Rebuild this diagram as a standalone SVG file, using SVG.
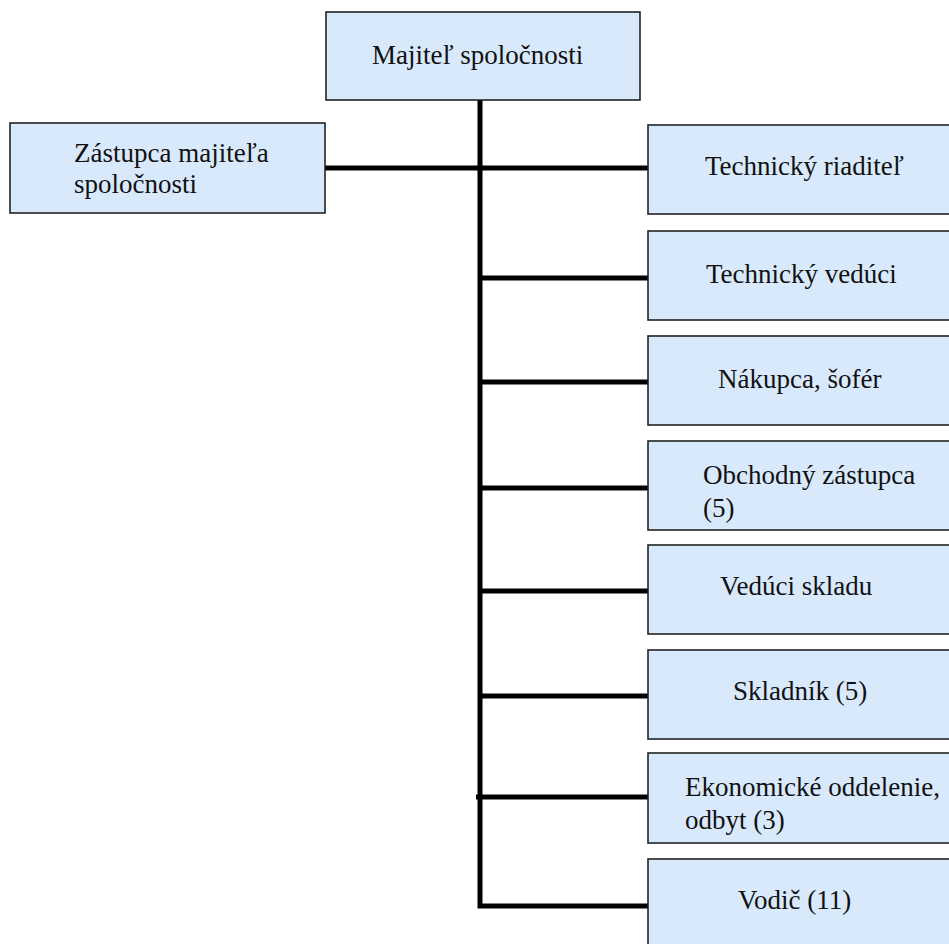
<svg xmlns="http://www.w3.org/2000/svg" width="949" height="944" viewBox="0 0 949 944">
<style>
.box{fill:#d9e9fc;stroke:#222;stroke-width:1.6}
.t{font-size:27px;fill:#111}
.c{stroke:#000;stroke-width:5;fill:none}
</style>
<rect width="949" height="944" fill="#fff"/>
<g id="connectors">
<path class="c" d="M480,100 V906 H650"/>
<path class="c" d="M325,168 H650"/>
<path class="c" d="M480,278 H650"/>
<path class="c" d="M480,382 H650"/>
<path class="c" d="M480,488 H650"/>
<path class="c" d="M480,591 H650"/>
<path class="c" d="M480,696 H650"/>
<path class="c" d="M476,797 H650"/>
</g>
<g font-family="Liberation Serif, serif">
<g id="n-majitel"><rect class="box" x="326" y="12" width="314" height="88"/><text class="t" x="372" y="64">Majiteľ spoločnosti</text></g>
<g id="n-zastupca"><rect class="box" x="10" y="123" width="315" height="90"/><text class="t" x="74" y="162">Zástupca majiteľa</text><text class="t" x="74" y="193">spoločnosti</text></g>
<g id="n-techriad"><rect class="box" x="648" y="125" width="320" height="89"/><text class="t" x="705" y="175">Technický riaditeľ</text></g>
<g id="n-techved"><rect class="box" x="648" y="231" width="320" height="89"/><text class="t" x="706" y="283">Technický vedúci</text></g>
<g id="n-nakupca"><rect class="box" x="648" y="336" width="320" height="89"/><text class="t" x="718" y="388">Nákupca, šofér</text></g>
<g id="n-obchodny"><rect class="box" x="648" y="441" width="320" height="89"/><text class="t" x="703" y="484">Obchodný zástupca</text><text class="t" x="703" y="517">(5)</text></g>
<g id="n-veduci"><rect class="box" x="648" y="545" width="320" height="89"/><text class="t" x="720" y="595">Vedúci skladu</text></g>
<g id="n-skladnik"><rect class="box" x="648" y="650" width="320" height="89"/><text class="t" x="733" y="700">Skladník (5)</text></g>
<g id="n-ekonom"><rect class="box" x="648" y="753" width="320" height="90"/><text class="t" x="685" y="796">Ekonomické oddelenie,</text><text class="t" x="685" y="829">odbyt (3)</text></g>
<g id="n-vodic"><rect class="box" x="648" y="859" width="320" height="100"/><text class="t" x="738" y="909">Vodič (11)</text></g>
</g>
</svg>
